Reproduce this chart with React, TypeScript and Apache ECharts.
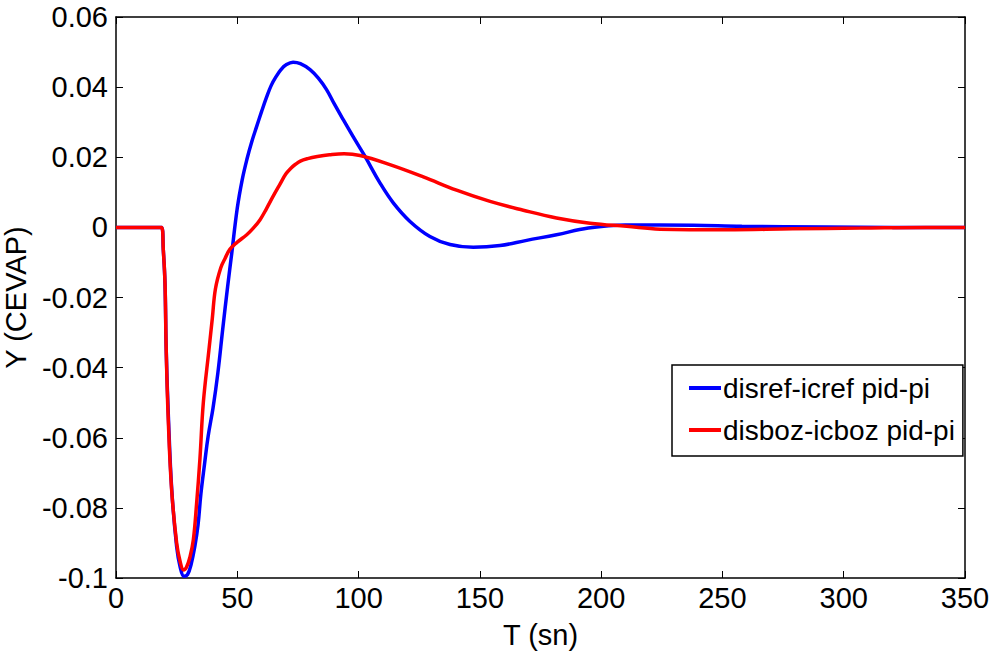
import React, { useEffect, useRef } from "react";
import * as echarts from "echarts";

const xTicks = [0, 50, 100, 150, 200, 250, 300, 350];
const yTickLabels = ["0.06", "0.04", "0.02", "0", "-0.02", "-0.04", "-0.06", "-0.08", "-0.1"];

const seriesNames = ["disref-icref pid-pi", "disboz-icboz pid-pi"];

const tBlue = [0, 10, 18.8, 19.5, 20.2, 20.7, 21.6, 23, 25, 26.5, 28, 29.5, 31, 32.5, 33.8, 35, 36.5, 38, 40, 42, 44, 46, 47.7, 50, 52, 54, 56, 58, 60, 62, 64, 66, 68, 70, 73, 76, 80, 83.5, 86.8, 90, 93.7, 98.5, 102.6, 108.8, 114.3, 121.2, 129.4, 137.7, 147.3, 158.3, 169.3, 181.6, 194.7, 210, 238, 258, 293, 320, 350];
const yBlue = [0, 0, 0, -0.0064, -0.016, -0.035, -0.054, -0.075, -0.091, -0.097, -0.0995, -0.099, -0.096, -0.091, -0.085, -0.076, -0.0675, -0.0595, -0.0515, -0.0415, -0.029, -0.017, -0.0075, 0.0055, 0.0135, 0.0195, 0.0245, 0.0288, 0.033, 0.037, 0.0405, 0.043, 0.045, 0.0463, 0.0471, 0.0467, 0.045, 0.0425, 0.0393, 0.0352, 0.0307, 0.025, 0.0203, 0.0127, 0.007, 0.0017, -0.0026, -0.0049, -0.0057, -0.0052, -0.0037, -0.0021, -0.0002, 0.0007, 0.0006, 0.0003, 0.0001, 0, 0];

const tRed = [0, 10, 18.8, 19.5, 20.2, 20.7, 21.5, 22.9, 25, 26.5, 27.8, 29, 30.5, 31.9, 33.2, 34.6, 36, 38.3, 39.7, 41, 43.2, 45, 47, 50, 53.9, 56.5, 59.4, 62, 64.8, 67.5, 70, 72, 74, 76, 79, 83, 88, 94, 100.6, 112.9, 126.7, 140.4, 154.2, 167.9, 181.6, 195.4, 210.5, 224.3, 251.7, 279, 306.7, 334, 350];
const yRed = [0, 0, 0, -0.0064, -0.0159, -0.035, -0.054, -0.0745, -0.09, -0.0955, -0.0977, -0.097, -0.094, -0.089, -0.079, -0.066, -0.05, -0.035, -0.026, -0.0175, -0.0115, -0.0088, -0.0062, -0.0042, -0.0021, -0.0003, 0.0022, 0.0053, 0.0089, 0.0122, 0.0152, 0.0168, 0.018, 0.0189, 0.0196, 0.0202, 0.0207, 0.021, 0.0205, 0.0179, 0.0144, 0.0106, 0.0074, 0.0049, 0.0027, 0.0012, 0.0003, -0.0005, -0.0007, -0.0004, -0.0002, 0, 0];

const zip = (a: number[], b: number[]) => a.map((v, i) => [v, b[i]]);

const FONT = "'Liberation Sans', Arial, sans-serif";

export default function App() {
  const ref = useRef<HTMLDivElement>(null);
  useEffect(() => {
    if (!ref.current) return;
    const chart = echarts.init(ref.current, null, { renderer: "svg" });
    const axisLine = { show: true, onZero: false, lineStyle: { color: "#000", width: 1.5 } };
    const tick = { show: true, inside: true, length: 7, lineStyle: { color: "#000", width: 1 } };
    const fmtY = (v: number) => {
      const s = parseFloat(v.toFixed(2)).toString();
      const i = yTickLabels.indexOf(s);
      return i >= 0 ? yTickLabels[i] : s;
    };
    chart.setOption({
      animation: false,
      backgroundColor: "#fff",
      grid: { left: 116, right: 33, top: 17, bottom: 79, containLabel: false, outerBoundsMode: "none" },
      xAxis: [
        {
          type: "value",
          min: xTicks[0],
          max: xTicks[xTicks.length - 1],
          interval: 50,
          position: "bottom",
          axisLine,
          axisTick: tick,
          splitLine: { show: false },
          axisLabel: { color: "#000", fontSize: 29, fontFamily: FONT, margin: 5 },
          name: "T (sn)",
          nameLocation: "middle",
          nameGap: 42,
          nameTextStyle: { color: "#000", fontSize: 29, fontFamily: FONT },
        },
        {
          type: "value",
          min: xTicks[0],
          max: xTicks[xTicks.length - 1],
          interval: 50,
          position: "top",
          axisLine,
          axisTick: tick,
          splitLine: { show: false },
          axisLabel: { show: false },
        },
      ],
      yAxis: [
        {
          type: "value",
          min: -0.1,
          max: 0.06,
          interval: 0.02,
          position: "left",
          axisLine,
          axisTick: tick,
          splitLine: { show: false },
          axisLabel: { color: "#000", fontSize: 29, fontFamily: FONT, margin: 8, formatter: fmtY },
          name: "Y (CEVAP)",
          nameLocation: "middle",
          nameGap: 86,
          nameTextStyle: { color: "#000", fontSize: 29, fontFamily: FONT },
        },
        {
          type: "value",
          min: -0.1,
          max: 0.06,
          interval: 0.02,
          position: "right",
          axisLine,
          axisTick: tick,
          splitLine: { show: false },
          axisLabel: { show: false },
        },
      ],
      legend: {
        left: 672,
        top: 365,
        orient: "vertical",
        backgroundColor: "#fff",
        borderColor: "#000",
        borderWidth: 1.5,
        borderRadius: 0,
        padding: [9, 8, 12, 17],
        itemGap: 14,
        itemWidth: 32,
        itemHeight: 4,
        icon: "rect",
        textStyle: { color: "#000", fontSize: 28, fontFamily: FONT, lineHeight: 28, padding: [0, 0, 0, -3] },
        data: seriesNames,
      },
      series: [
        {
          name: seriesNames[0],
          type: "line",
          data: zip(tBlue, yBlue),
          showSymbol: false,
          symbol: "none",
          smooth: 0.4,
          lineStyle: { color: "#0000ff", width: 3.5 },
          itemStyle: { color: "#0000ff" },
          z: 2,
        },
        {
          name: seriesNames[1],
          type: "line",
          data: zip(tRed, yRed),
          showSymbol: false,
          symbol: "none",
          smooth: 0.4,
          lineStyle: { color: "#ff0000", width: 3.5 },
          itemStyle: { color: "#ff0000" },
          z: 3,
        },
      ],
    });
    return () => chart.dispose();
  }, []);
  return (
    <div
      ref={ref}
      style={{ position: "fixed", left: 0, top: 0, width: 998, height: 657, background: "#fff" }}
    />
  );
}
